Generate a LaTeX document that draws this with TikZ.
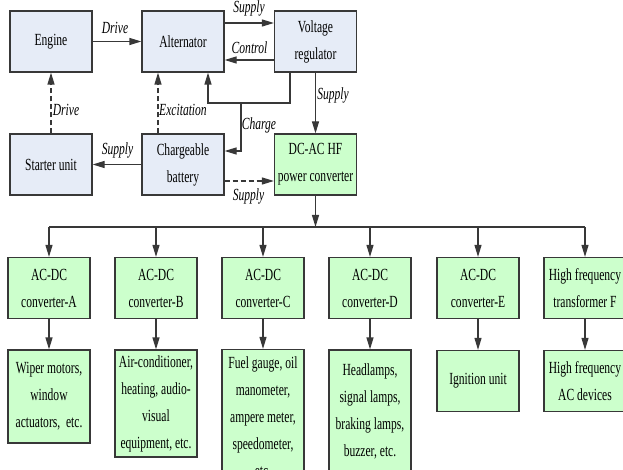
\documentclass[tikz,border=0pt]{standalone}
\usepackage{fontspec}
\setmainfont{Liberation Serif}[FakeStretch=0.68]
\usetikzlibrary{arrows.meta}

\definecolor{boxblue}{RGB}{230,236,247}
\definecolor{boxgreen}{RGB}{204,255,204}
\definecolor{linegray}{RGB}{56,56,56}

\begin{document}
\begin{tikzpicture}[x=1pt, y=-1pt,
		blk/.style={draw=linegray, line width=1.2pt, fill=boxblue, minimum width=82pt, minimum height=61pt, inner sep=1pt, align=center, font=\fontsize{17}{27}\selectfont},
		gblk/.style={blk, fill=boxgreen},
		lbl/.style={font=\itshape\fontsize{17}{20}\selectfont, inner sep=0pt},
		arr/.style={draw=linegray, line width=1.2pt, -{Triangle[length=12pt,width=7pt]}},
		dsh/.style={dash pattern=on 5pt off 3pt}]
		\useasboundingbox (0,0) rectangle (623,470);
		% vehicle side
		\node[blk] (engine) at (51,41.5) {Engine};
		\node[blk] (alt) at (183,41.5) {Alternator};
		\node[blk] (vreg) at (315.5,41.5) {Voltage\\regulator};
		\node[blk] (starter) at (51,164.5) {Starter unit};
		\node[blk] (batt) at (183,164.5) {Chargeable\\battery};
		\node[gblk] (dcac) at (315.5,164.5) {DC-AC HF\\power converter};
		\coordinate (jn) at (241,103);
		\draw[arr] (engine) -- (alt);
		\draw[arr] ([yshift=18.5pt]alt.east) -- ([yshift=18.5pt]vreg.west);
		\draw[arr] ([yshift=-18.5pt]vreg.west) -- ([yshift=-18.5pt]alt.east);
		\draw[arr] ([xshift=-25.5pt]vreg.south) |- (jn) -| ([xshift=25pt]alt.south);
		\draw[arr] (jn) |- ([yshift=13.5pt]batt.east);
		\draw[arr, dsh] ([xshift=-25pt]batt.north) -- ([xshift=-25pt]alt.south);
		\draw[arr, dsh] (starter) -- (engine);
		\draw[arr] (batt) -- (starter);
		\draw[arr, dsh] ([yshift=-16.5pt]batt.east) -- ([yshift=-16.5pt]dcac.west);
		\draw[arr] (vreg) -- (dcac);
		\node[lbl] (l-drive1) at (115,27.5) {Drive};
		\node[lbl] (l-supply1) at (249,8.5) {Supply};
		\node[lbl] (l-control) at (249.5,47.5) {Control};
		\node[lbl] (l-drive2) at (66,110) {Drive};
		\node[lbl] (l-excit) at (183,110) {Excitation};
		\node[lbl] (l-charge) at (259,125) {Charge};
		\node[lbl] (l-supply2) at (117.5,150) {Supply};
		\node[lbl] (l-supply3) at (333,95.5) {Supply};
		\node[lbl] (l-supply4) at (248.5,196.5) {Supply};
		% converters
		\node[gblk] (convA) at (49,288) {AC-DC\\converter-A};
		\node[gblk] (convB) at (156,288) {AC-DC\\converter-B};
		\node[gblk] (convC) at (263,288) {AC-DC\\converter-C};
		\node[gblk] (convD) at (370,288) {AC-DC\\converter-D};
		\node[gblk] (convE) at (478,288) {AC-DC\\converter-E};
		\node[gblk] (convF) at (585,288) {High frequency\\transformer F};
		\coordinate (bus) at (315.5,227);
		\draw[arr] (dcac) -- (bus);
		\draw[draw=linegray, line width=1.2pt] (convA.north |- bus) -- (convF.north |- bus);
		\draw[arr] (convA.north |- bus) -- (convA);
		\draw[arr] (convB.north |- bus) -- (convB);
		\draw[arr] (convC.north |- bus) -- (convC);
		\draw[arr] (convD.north |- bus) -- (convD);
		\draw[arr] (convE.north |- bus) -- (convE);
		\draw[arr] (convF.north |- bus) -- (convF);
		% loads
		\node[gblk, minimum height=93pt] (devA) at (49,396.5) {Wiper motors,\\window\\actuators,~ etc.};
		\node[gblk, minimum height=107pt] (devB) at (156,403.5) {Air-conditioner,\\heating, audio-\\visual\\equipment, etc.};
		\node[gblk, minimum height=135pt] (devC) at (263,417) {Fuel gauge, oil\\manometer,\\ampere meter,\\speedometer,\\etc.};
		\node[gblk, minimum height=123pt] (devD) at (370,411.5) {Headlamps,\\signal lamps,\\braking lamps,\\buzzer, etc.};
		\node[gblk] (devE) at (478,381) {Ignition unit};
		\node[gblk] (devF) at (585,381) {High frequency\\AC devices};
		\draw[arr] (convA) -- (devA);
		\draw[arr] (convB) -- (devB);
		\draw[arr] (convC) -- (devC);
		\draw[arr] (convD) -- (devD);
		\draw[arr] (convE) -- (devE);
		\draw[arr] (convF) -- (devF);
	\end{tikzpicture}
\end{document}
